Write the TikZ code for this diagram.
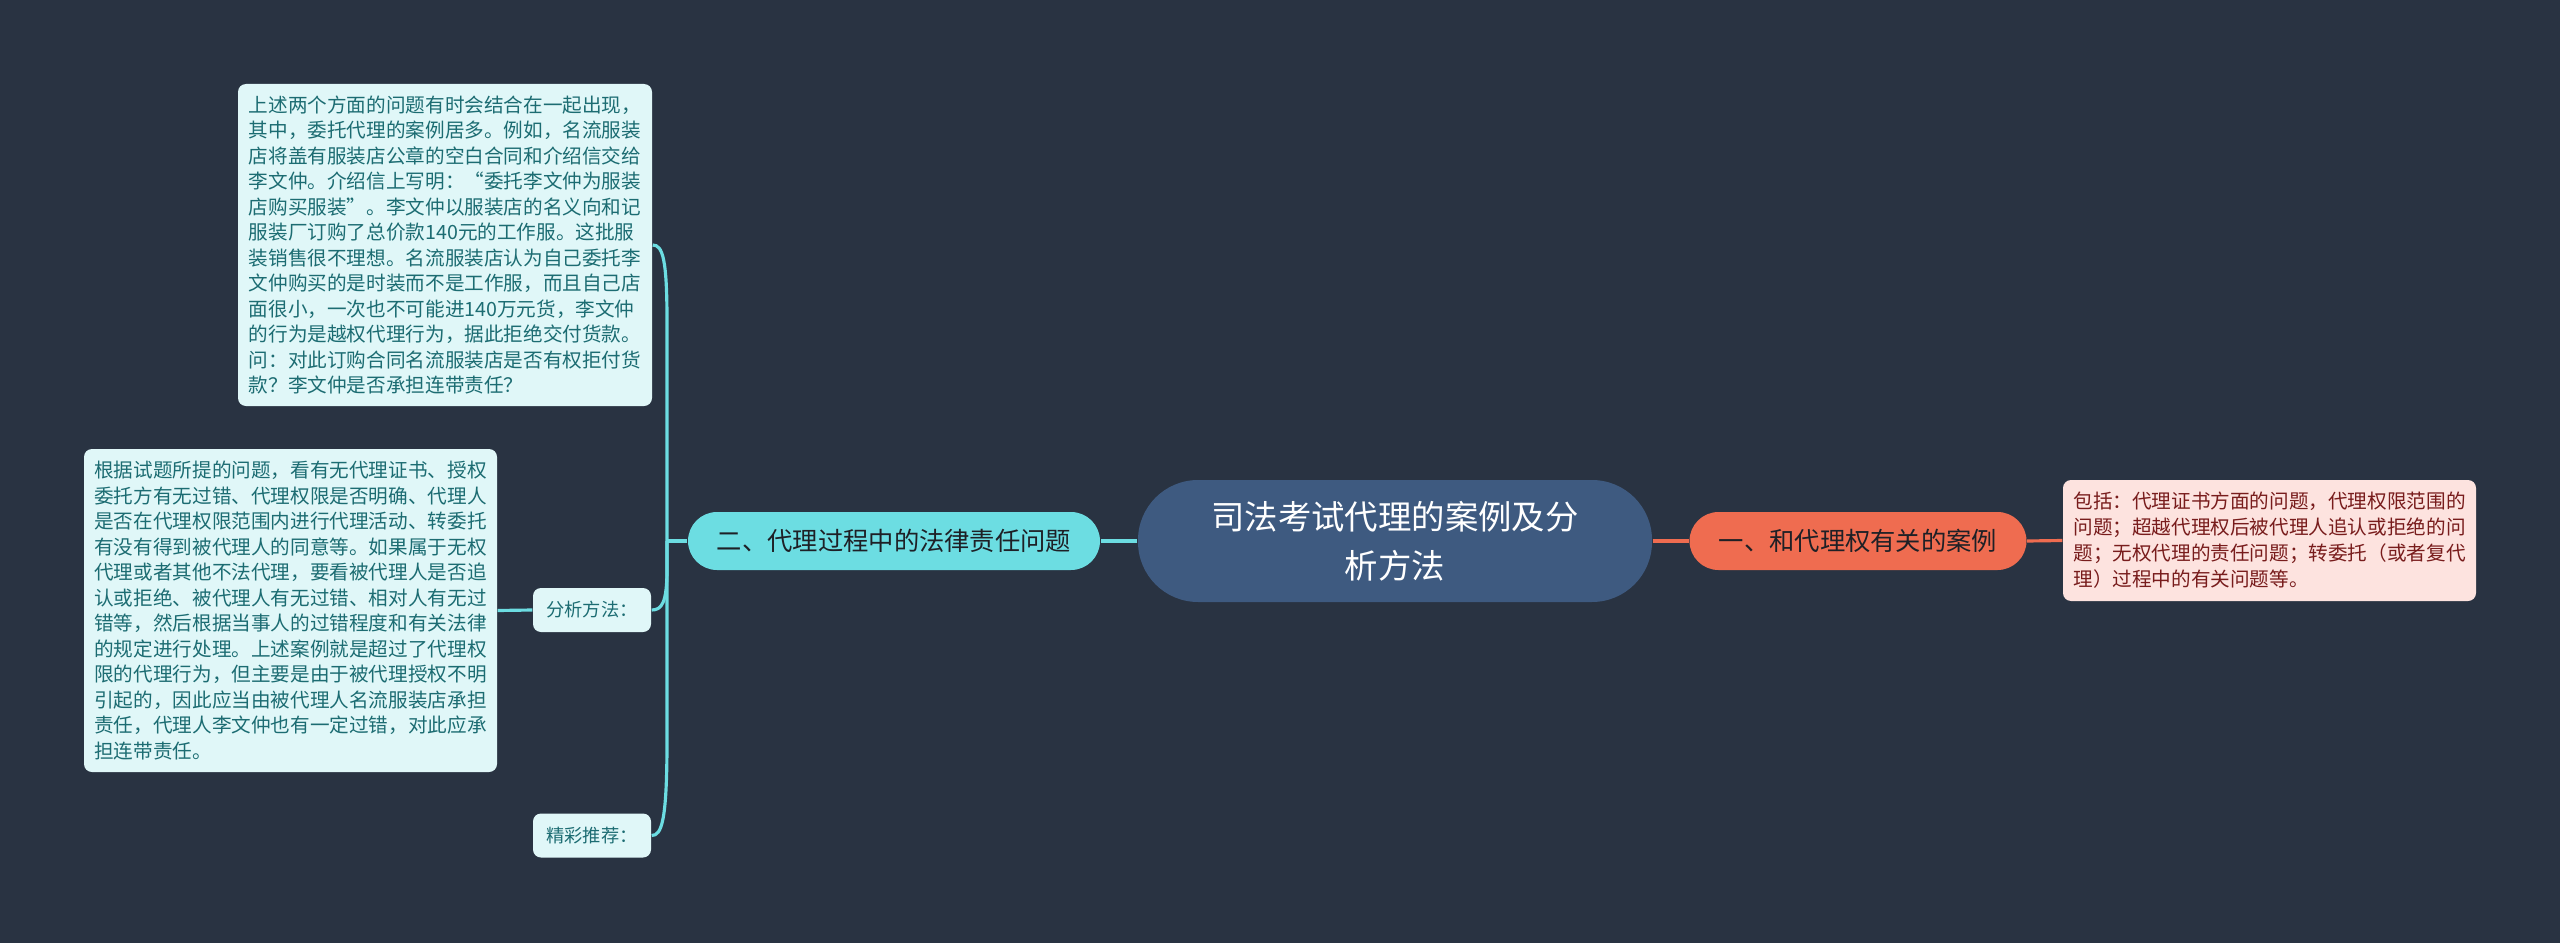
\documentclass[tikz,border=0pt]{standalone}
\usepackage{fontspec}
\setmainfont{Noto Sans CJK SC}
\definecolor{bgnavy}{RGB}{41,51,66}
\definecolor{rootblue}{RGB}{62,90,128}
\definecolor{cyanmain}{RGB}{108,221,226}
\definecolor{cyanleaf}{RGB}{224,247,248}
\definecolor{tealtext}{RGB}{28,108,114}
\definecolor{orangemain}{RGB}{239,108,80}
\definecolor{pinkleaf}{RGB}{253,227,223}
\definecolor{redtext}{RGB}{120,28,28}
\definecolor{darktext}{RGB}{30,32,38}
\begin{document}
\begin{tikzpicture}[
    every node/.style={inner sep=0pt},
    root/.style={fill=rootblue, text=white, rounded corners=0.6cm, minimum width=5.14cm, minimum height=1.22cm, align=center, font=\fontsize{9.5pt}{14pt}\selectfont},
    branchleft/.style={fill=cyanmain, text=darktext, rounded corners=0.29cm, minimum width=4.12cm, minimum height=0.58cm, font=\fontsize{7.2pt}{9pt}\selectfont},
    branchright/.style={fill=orangemain, text=darktext, rounded corners=0.29cm, minimum width=3.37cm, minimum height=0.58cm, font=\fontsize{7.2pt}{9pt}\selectfont},
    leafleft/.style={fill=cyanleaf, text=tealtext, rounded corners=0.08cm, align=left, font=\fontsize{5.58pt}{7.25pt}\selectfont},
    leafright/.style={fill=pinkleaf, text=redtext, rounded corners=0.08cm, align=left, font=\fontsize{5.58pt}{7.4pt}\selectfont},
    tagleft/.style={fill=cyanleaf, text=tealtext, rounded corners=0.08cm, minimum width=1.18cm, minimum height=0.44cm, font=\fontsize{5.2pt}{6pt}\selectfont},
    lineleft/.style={draw=cyanmain, line width=0.9pt},
    lineright/.style={draw=orangemain, line width=0.9pt}
]
    % Background
    \useasboundingbox[fill=bgnavy] (0,0) rectangle (25.6,9.43);

    % Central topic
    \node[root] (root) at (13.95,4.02) {司法考试代理的案例及分\\析方法};

    % Right side
    \node[branchright] (case) at (18.58,4.02) {一、和代理权有关的案例};
    \node[leafright, minimum width=4.13cm, minimum height=1.21cm] (include) at (22.695,4.025)
        {包括：代理证书方面的问题，代理权限范围的\\问题；超越代理权后被代理人追认或拒绝的问\\题；无权代理的责任问题；转委托（或者复代\\理）过程中的有关问题等。};

    % Left side
    \node[branchleft] (duty) at (8.94,4.02) {二、代理过程中的法律责任问题};
    \node[leafleft, minimum width=4.14cm, minimum height=3.22cm] (story) at (4.45,6.98)
        {上述两个方面的问题有时会结合在一起出现，\\其中，委托代理的案例居多。例如，名流服装\\店将盖有服装店公章的空白合同和介绍信交给\\李文仲。介绍信上写明：“委托李文仲为服装\\店购买服装”。李文仲以服装店的名义向和记\\服装厂订购了总价款140元的工作服。这批服\\装销售很不理想。名流服装店认为自己委托李\\文仲购买的是时装而不是工作服，而且自己店\\面很小，一次也不可能进140万元货，李文仲\\的行为是越权代理行为，据此拒绝交付货款。\\问：对此订购合同名流服装店是否有权拒付货\\款？李文仲是否承担连带责任？};
    \node[tagleft] (method) at (5.92,3.33) {分析方法：};
    \node[tagleft] (recommend) at (5.92,1.075) {精彩推荐：};
    \node[leafleft, minimum width=4.13cm, minimum height=3.23cm] (analysis) at (2.905,3.325)
        {根据试题所提的问题，看有无代理证书、授权\\委托方有无过错、代理权限是否明确、代理人\\是否在代理权限范围内进行代理活动、转委托\\有没有得到被代理人的同意等。如果属于无权\\代理或者其他不法代理，要看被代理人是否追\\认或拒绝、被代理人有无过错、相对人有无过\\错等，然后根据当事人的过错程度和有关法律\\的规定进行处理。上述案例就是超过了代理权\\限的代理行为，但主要是由于被代理授权不明\\引起的，因此应当由被代理人名流服装店承担\\责任，代理人李文仲也有一定过错，对此应承\\担连带责任。};

    % Connectors
    \coordinate (trunk) at (6.67,4.02);
    \draw[lineright] (root.east) -- (case.west);
    \draw[lineright] (case.east) -- (include.west);
    \draw[lineleft] (root.west) -- (duty.east);
    \draw[lineleft] (duty.west) -- (trunk);
    \draw[lineleft] (trunk) -- ++(0,2.2) .. controls ++(0,0.62) and ([xshift=0.1cm]story.east) .. (story.east);
    \draw[lineleft] (trunk) -- ++(0,-0.28) .. controls ++(0,-0.34) and ([xshift=0.1cm]method.east) .. (method.east);
    \draw[lineleft] (trunk) -- ++(0,-2.0) .. controls ++(0,-0.8) and ([xshift=0.1cm]recommend.east) .. (recommend.east);
    \draw[lineleft] (method.west) -- (analysis.east);
\end{tikzpicture}
\end{document}
